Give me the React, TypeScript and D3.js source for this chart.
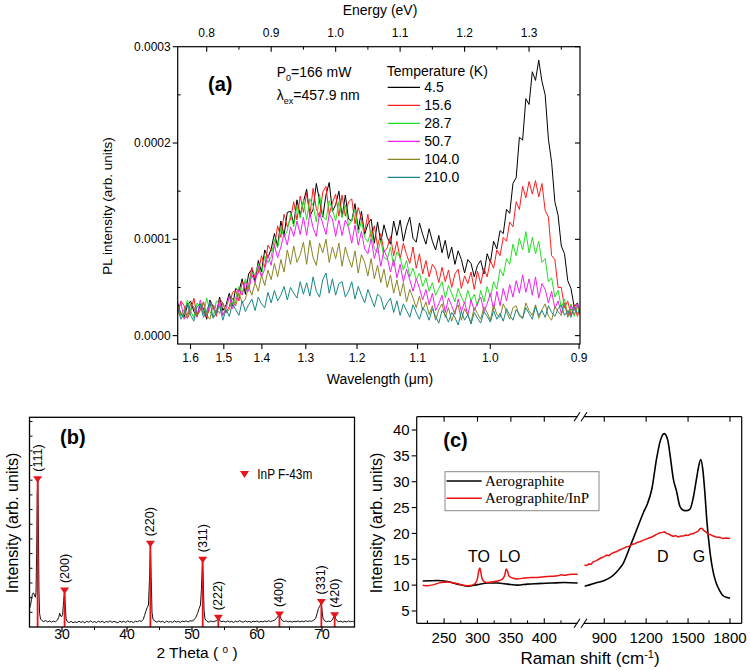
import React from "react";
import * as d3 from "d3";

// ---------------- Panel (a): PL spectra ----------------
const E_START = 0.755; // eV, first sample
const E_STEP = 0.005; // eV between samples
const HC = 1.2398; // eV·µm, wavelength <-> energy
const plTemps = ["4.5", "15.6", "28.7", "50.7", "104.0", "210.0"];
const plColors = ["#000000", "#ff1c1c", "#22e022", "#f020f0", "#8a8424", "#178787"];
// intensities in units of 1e-5 (arb. units)
const pl_4_5 = [
  3.4, 2.2, 1.9, 3.1, 3.6, 2.5, 2.0, 3.3, 2.8, 1.7, 3.7, 3.0, 2.3, 4.0, 2.6, 3.2,
  4.4, 3.1, 4.9, 4.6, 5.9, 4.3, 6.4, 6.9, 5.6, 7.8, 6.6, 8.9, 8.1, 9.0, 10.6, 9.3, 11.9, 10.4, 12.8, 12.9, 11.6, 14.1, 12.5, 13.9,
  15.2, 12.4, 13.1, 15.8, 14.0, 12.3, 14.6, 15.9, 12.9, 13.6, 15.0,
  12.3, 14.6, 12.1, 11.9, 13.7, 11.0, 12.9, 10.5, 11.6, 12.1, 9.6, 11.8,
  9.7, 11.5, 10.2, 9.5, 11.9, 10.4, 12.0, 9.8, 11.3, 12.3, 10.1, 9.7, 11.7, 10.5,
  9.5, 11.1, 9.8, 8.9, 10.4, 8.6, 9.9, 8.0, 9.2, 7.4, 8.8, 7.9, 6.5, 7.9, 7.5, 6.1, 7.3,
  7.8, 6.4, 8.5, 7.6, 9.8, 9.0, 10.9, 10.6, 13.1, 12.7, 15.8, 16.4, 20.6, 20.3, 24.6, 24.0, 27.4, 26.5, 28.6, 26.4, 25.0, 20.4, 18.0, 13.9, 12.5, 9.3, 8.5, 5.7, 4.9, 3.0, 3.4, 2.1,
];
const pl_15_6 = [
  2.2, 3.6, 3.1, 1.8, 2.5, 3.9, 2.1, 2.7, 3.5, 1.9, 3.3, 2.9, 2.0, 3.8, 3.4, 2.4,
  3.0, 4.5, 4.7, 3.6, 5.6, 4.8, 5.2, 7.1, 6.0, 6.5, 8.3, 7.1, 9.4, 8.8, 9.2, 11.4, 10.2, 12.6, 11.3, 12.1, 13.9, 12.0, 14.5, 12.8,
  14.8, 12.5, 15.3, 13.2, 12.3, 14.9, 15.5, 12.6, 13.8, 14.7, 12.4,
  14.6, 12.4, 13.9, 14.2, 11.6, 13.3, 12.1, 10.8, 12.6, 10.2, 11.4, 9.3,
  10.6, 8.7, 9.1, 10.3, 8.3, 9.8, 8.0, 9.6, 8.4, 7.5, 9.2, 7.0, 8.5, 6.4,
  7.8, 6.1, 7.4, 6.9, 5.5, 7.1, 5.6, 6.8, 5.0, 6.4, 6.9, 4.9, 6.2, 5.4, 6.6, 4.8, 6.7,
  5.4, 7.0, 6.1, 7.8, 7.0, 8.9, 8.3, 10.2, 9.8, 11.8, 11.3, 13.9, 13.1, 15.5, 14.3, 16.0, 14.7, 16.1, 14.4, 15.8, 13.0, 12.3, 8.3, 7.9, 5.0, 5.0, 2.9, 3.6, 2.1, 3.2, 2.0, 3.1,
];
const pl_28_7 = [
  3.1, 2.0, 2.4, 3.7, 2.6, 1.8, 3.4, 3.0, 2.2, 3.9, 2.5, 1.9, 3.6, 3.3, 2.1, 2.9,
  4.0, 3.3, 3.9, 5.1, 4.4, 5.9, 5.0, 6.6, 6.3, 7.4, 6.2, 8.3, 7.6, 8.2, 10.0, 9.1, 11.2, 10.2, 10.9, 12.6, 11.3, 13.5, 12.2, 14.1,
  12.0, 14.2, 13.5, 11.8, 14.7, 12.4, 12.0, 14.0, 13.1, 11.9, 13.9,
  12.3, 13.6, 11.4, 12.0, 13.1, 10.6, 11.9, 10.2, 9.7, 11.0, 9.0, 8.6,
  9.9, 8.1, 7.9, 9.2, 7.2, 8.7, 8.1, 6.8, 7.8, 6.1, 7.0, 5.8, 6.5, 5.1,
  6.0, 4.6, 5.5, 4.2, 4.9, 5.6, 3.9, 5.2, 4.4, 3.5, 4.9, 4.0, 3.3, 4.7, 3.6, 4.3, 3.1,
  4.7, 3.5, 5.1, 4.0, 5.6, 4.8, 6.9, 6.2, 8.0, 7.4, 9.5, 8.3, 10.1, 8.9, 10.8, 8.6, 10.2, 8.5, 9.8, 7.6, 8.0, 5.6, 6.0, 4.0, 4.7, 2.9, 3.8, 2.2, 3.3, 2.0, 3.1, 1.9,
];
const pl_50_7 = [
  2.5, 3.4, 1.7, 2.2, 3.3, 2.9, 1.9, 3.7, 2.4, 2.0, 3.5, 3.1, 2.3, 3.6, 2.1, 2.8,
  4.1, 2.8, 3.5, 4.8, 4.2, 5.6, 4.6, 6.3, 5.5, 7.2, 6.1, 6.9, 8.4, 7.3, 9.4, 8.1, 9.2, 10.6, 9.4, 11.3, 10.3, 11.9, 10.5, 12.3,
  10.4, 12.7, 11.2, 10.3, 12.8, 11.6, 10.5, 12.6, 12.1, 10.3, 12.0,
  10.4, 12.0, 11.2, 9.6, 11.5, 9.4, 10.8, 9.0, 8.5, 10.1, 8.0, 9.3,
  7.2, 8.9, 8.1, 6.6, 7.9, 6.0, 7.4, 5.6, 6.9, 5.8, 4.6, 5.9, 4.9, 3.7,
  4.8, 3.2, 4.4, 2.6, 3.3, 4.2, 2.4, 3.9, 3.1, 2.2, 3.8, 2.5, 3.5, 2.1, 3.7, 2.6, 3.4,
  4.0, 2.5, 3.3, 4.4, 2.7, 4.6, 3.1, 4.9, 3.6, 5.3, 4.0, 5.7, 4.4, 6.3, 4.5, 5.9, 4.2, 6.1, 3.9, 5.4, 4.8, 3.4, 4.6, 2.8, 3.6, 2.3, 3.4, 2.0, 3.1, 2.6, 3.3, 2.2,
];
const pl_104_0 = [
  3.1, 2.2, 2.7, 1.8, 3.3, 3.0, 2.0, 2.6, 3.5, 2.1, 1.7, 3.2, 2.8, 2.3, 3.4, 2.4,
  2.7, 3.9, 3.1, 4.4, 3.4, 3.8, 5.1, 4.2, 5.5, 4.6, 6.3, 5.2, 6.8, 5.8, 7.5, 6.1, 7.9, 6.6, 8.9, 7.4, 9.3, 7.6, 8.4, 9.7,
  7.4, 9.9, 8.1, 7.3, 9.6, 8.6, 10.0, 7.6, 9.2, 8.0, 9.6,
  7.2, 9.2, 8.0, 7.1, 8.8, 6.5, 8.4, 7.6, 6.2, 8.0, 5.9, 7.3,
  5.5, 6.9, 5.0, 6.3, 4.4, 5.8, 4.1, 5.5, 3.5, 4.8, 3.9, 2.9, 4.1, 2.6,
  3.5, 2.2, 3.1, 1.6, 2.7, 3.3, 1.9, 2.9, 1.5, 2.6, 3.2, 1.6, 2.8, 2.1, 1.4, 2.9, 2.3,
  1.7, 3.0, 2.4, 1.6, 3.2, 2.2, 1.9, 3.3, 2.5, 1.7, 2.9, 3.1, 2.0, 1.8, 3.4, 2.6, 2.1, 3.2, 1.8, 2.7, 3.3, 2.0, 1.6, 3.0, 2.5, 2.1, 3.4, 1.9, 2.8, 2.2, 3.0, 2.4,
];
const pl_210_0 = [
  2.8, 1.7, 2.3, 3.4, 2.1, 1.5, 3.0, 3.3, 1.9, 2.6, 3.5, 1.8, 2.4, 3.1, 1.6, 2.7,
  2.0, 3.3, 2.7, 2.1, 3.6, 2.5, 3.2, 3.8, 2.6, 4.0, 3.3, 2.9, 4.5, 3.4, 4.7, 3.6, 4.2, 5.1, 3.7, 5.0, 4.4, 3.9, 5.6, 4.3,
  5.5, 4.1, 6.1, 4.6, 4.0, 5.8, 6.5, 4.4, 5.9, 4.2, 5.4,
  5.6, 4.0, 4.6, 5.6, 3.8, 5.1, 4.2, 3.4, 4.8, 3.9, 3.0, 4.3,
  4.0, 2.7, 3.4, 3.9, 2.4, 3.6, 2.1, 3.3, 2.6, 1.9, 3.2, 2.4, 1.7, 2.9,
  2.5, 1.6, 2.8, 2.0, 1.3, 2.6, 2.2, 1.4, 2.4, 1.9, 1.1, 2.5, 1.6, 2.2, 1.2, 2.4, 1.8,
  1.3, 2.5, 2.0, 1.4, 2.6, 1.7, 2.3, 1.5, 2.8, 2.1, 1.6, 2.7, 2.2, 1.8, 2.9, 2.3, 1.7, 3.0, 2.1, 2.6, 1.9, 3.1, 2.4, 2.0, 2.8, 3.2, 2.1, 2.6, 1.9, 3.0, 2.3, 2.8,
];
const plSeries = [pl_4_5, pl_15_6, pl_28_7, pl_50_7, pl_104_0, pl_210_0];
const energyTicks = [0.8, 0.9, 1.0, 1.1, 1.2, 1.3];
const energyMinor = [0.85, 0.95, 1.05, 1.15, 1.25, 1.35];
const wavelengthTicks = [1.6, 1.5, 1.4, 1.3, 1.2, 1.1, 1.0, 0.9];
const plYTicks = [0, 10, 20, 30]; // ×1e-5
const plYMinor = [5, 15, 25];

// ---------------- Panel (b): XRD ----------------
const xrdTheta = [
  25.0, 25.15, 25.3, 25.45, 25.6, 25.75, 25.9, 26.0, 26.1, 26.2, 26.28, 26.36, 26.45, 26.55, 26.7, 26.9,
  27.2, 27.5, 27.8, 28.1, 28.4, 28.7, 29.0, 29.3, 29.5, 29.65, 29.8, 29.95, 30.1, 30.25, 30.38, 30.5,
  30.62, 30.8, 31.1, 31.4, 31.7, 32.0, 32.3, 32.6, 32.9, 33.2, 33.5, 33.8, 34.1, 34.4, 34.7, 35.0,
  35.3, 35.6, 35.9, 36.2, 36.5, 36.8, 37.1, 37.4, 37.7, 38.0, 38.3, 38.6, 38.9, 39.2, 39.5, 39.8,
  40.1, 40.4, 40.7, 41.0, 41.3, 41.6, 41.9, 42.2, 42.5, 42.7, 42.9, 43.1, 43.3, 43.45, 43.6, 43.72,
  43.85, 44.0, 44.3, 44.6, 44.9, 45.2, 45.5, 45.8, 46.1, 46.4, 46.7, 47.0, 47.3, 47.6, 47.9, 48.2,
  48.5, 48.8, 49.1, 49.4, 49.7, 50.0, 50.3, 50.6, 50.85, 51.1, 51.3, 51.45, 51.6, 51.72, 51.85, 52.0,
  52.3, 52.6, 52.9, 53.2, 53.5, 53.8, 54.05, 54.3, 54.6, 54.9, 55.2, 55.5, 55.8, 56.1, 56.4, 56.7,
  57.0, 57.3, 57.6, 57.9, 58.2, 58.5, 58.8, 59.1, 59.4, 59.7, 60.0, 60.3, 60.6, 60.9, 61.2, 61.5,
  61.8, 62.1, 62.4, 62.7, 63.0, 63.25, 63.45, 63.7, 63.9, 64.2, 64.5, 64.8, 65.1, 65.4, 65.7, 66.0,
  66.3, 66.6, 66.9, 67.2, 67.5, 67.8, 68.1, 68.4, 68.7, 69.0, 69.25, 69.45, 69.6, 69.75, 69.88, 70.0,
  70.15, 70.4, 70.7, 71.0, 71.3, 71.6, 71.8, 71.95, 72.1, 72.35, 72.6, 72.9, 73.2, 73.5, 73.8, 74.1,
  74.4, 74.7, 75.0,
];
const xrdIntensity = [
  8.8, 10.2, 13.0, 15.6, 16.3, 15.4, 14.2, 16.5, 35.0, 64.0, 70.0, 52.0, 18.0, 6.5, 3.8, 3.1,
  2.6, 3.1, 2.4, 2.9, 2.3, 2.8, 2.5, 3.3, 4.6, 6.6, 5.2, 4.9, 6.0, 12.5, 17.0, 11.0,
  4.2, 2.6, 2.1, 2.7, 2.0, 2.5, 2.1, 2.8, 2.2, 2.6, 2.0, 2.7, 2.3, 2.9, 2.2, 2.6,
  2.1, 2.8, 2.3, 2.7, 2.1, 2.6, 2.3, 2.9, 2.2, 2.7, 2.4, 2.0, 2.8, 2.3, 2.7, 2.2,
  2.9, 2.4, 2.6, 2.1, 2.8, 2.5, 3.0, 2.7, 3.6, 5.5, 7.5, 9.2, 10.5, 22.0, 38.5, 24.0,
  7.0, 3.6, 2.8, 2.3, 2.9, 2.4, 2.7, 2.1, 2.8, 2.3, 2.6, 2.2, 2.9, 2.4, 2.7, 2.2,
  2.8, 2.5, 2.9, 2.4, 3.0, 2.8, 3.4, 4.6, 6.5, 8.8, 10.5, 18.0, 31.0, 24.0, 8.0, 3.8,
  2.7, 2.3, 2.9, 2.5, 2.7, 3.0, 4.2, 3.0, 2.5, 2.8, 2.3, 2.9, 2.4, 2.7, 2.2, 2.8,
  2.5, 3.0, 2.6, 2.3, 2.9, 2.4, 2.7, 2.2, 2.8, 2.5, 2.9, 2.3, 2.7, 2.4, 2.9, 2.5,
  3.0, 2.6, 2.9, 3.3, 4.1, 5.2, 5.6, 4.0, 3.0, 2.6, 2.9, 2.4, 2.8, 2.3, 2.7, 2.5,
  2.9, 2.4, 2.8, 2.5, 3.0, 2.6, 2.9, 2.7, 3.2, 4.0, 6.5, 8.8, 9.6, 10.5, 11.8, 8.0,
  4.2, 2.9, 2.5, 2.8, 2.6, 3.4, 4.8, 5.4, 3.9, 2.9, 2.5, 2.8, 2.3, 2.7, 2.4, 2.9,
  2.5, 2.7, 2.4,
];
const hklLabels = ["(111)", "(200)", "(220)", "(311)", "(222)", "(400)", "(331)", "(420)"];
const hklTheta = [26.25, 30.4, 43.6, 51.65, 54.05, 63.45, 69.9, 71.95];
const hklIntensity = [70.7, 17.6, 39.9, 32.3, 4.7, 6.2, 12.2, 5.8];
const thetaTicks = [30, 40, 50, 60, 70];
const thetaMinor = [35, 45, 55, 65];
const xrdYTicks = [7, 14, 21, 28, 35, 42, 49, 56, 63, 70, 77, 84, 91, 98];

// ---------------- Panel (c): Raman ----------------
const ramanLowShift_aero = [218, 240, 255, 270, 285, 300, 315, 330, 345, 360, 375, 390, 410, 430, 450];
const ramanLow_aero = [10.8, 10.9, 10.7, 10.2, 9.8, 10.1, 10.4, 10.4, 10.2, 10.0, 10.2, 10.3, 10.4, 10.5, 10.4];
const ramanLowShift_inp = [
  218, 225, 235, 245, 255, 265, 275, 285, 292, 297, 300, 302, 303.5, 305, 307, 310, 315, 320, 330, 337,
  341, 343, 345, 347, 350, 355, 360, 370, 380, 390, 400, 410, 420, 425, 430, 440, 450,
];
const ramanLow_inp = [
  10.0, 9.9, 10.1, 10.5, 10.6, 10.4, 10.1, 9.9, 10.0, 10.4, 11.3, 12.8, 13.3, 12.5, 11.2, 10.7, 10.5, 10.6, 10.8, 11.1,
  12.0, 13.1, 12.7, 11.8, 11.5, 11.3, 11.2, 11.4, 11.5, 11.5, 11.6, 11.7, 11.8, 12.0, 11.9, 12.1, 12.1,
];
const ramanHighShift_aero = [
  760, 800, 850, 900, 950, 990, 1036, 1084, 1132, 1180, 1210, 1240, 1275, 1300, 1330, 1355, 1372, 1394,
  1418, 1442, 1466, 1490, 1514, 1538, 1560, 1574, 1591, 1605, 1620, 1634, 1658, 1680, 1700, 1725, 1753, 1780, 1801,
];
const ramanHigh_aero = [
  9.8, 10.1, 10.5, 10.9, 11.6, 12.6, 14.2, 17.4, 20.7, 24.0, 25.8, 28.5, 34.5, 37.8, 39.3, 38.0, 35.0, 30.6,
  28.1, 25.2, 24.5, 24.4, 24.7, 27.0, 30.5, 32.7, 34.3, 32.5, 28.0, 22.6, 16.2, 12.5, 10.5, 9.0, 7.9, 7.6, 7.45,
];
const ramanHighShift_inp = [
  758, 775, 790, 805, 820, 840, 860, 880, 900, 917, 935, 950, 970, 990, 1010, 1036, 1060, 1080, 1100, 1120,
  1140, 1155, 1180, 1200, 1220, 1240, 1260, 1275, 1295, 1315, 1330, 1345, 1360, 1380, 1394, 1410, 1430, 1450,
  1466, 1485, 1500, 1520, 1538, 1555, 1570, 1585, 1598, 1612, 1628, 1645, 1658, 1680, 1700, 1730, 1750, 1770, 1801,
];
const ramanHigh_inp = [
  13.9, 13.8, 14.1, 14.0, 14.5, 14.7, 15.0, 15.3, 15.5, 15.8, 15.7, 16.1, 16.3, 16.5, 16.8, 17.1, 17.4, 17.5, 17.9, 18.0,
  18.3, 18.4, 18.7, 18.9, 19.1, 19.3, 19.6, 19.8, 20.1, 20.2, 20.3, 20.0, 19.9, 19.6, 19.4, 19.6, 19.3, 19.5,
  19.5, 19.7, 19.6, 19.9, 20.0, 20.2, 20.4, 20.9, 21.0, 20.6, 20.3, 19.8, 19.8, 19.5, 19.3, 19.2, 19.0, 19.1, 19.0,
];
const ramanLowTicks = [250, 300, 350, 400];
const ramanLowMinor = [225, 275, 325, 375, 425];
const ramanHighTicks = [900, 1200, 1500, 1800];
const ramanHighMinor = [1050, 1350, 1650];
const ramanYTicks = [5, 10, 15, 20, 25, 30, 35, 40];
const ramanSeriesNames = ["Aerographite", "Aerographite/InP"];
const ramanColors = ["#000000", "#ee1111"];

const SANS = "'Liberation Sans', Arial, Helvetica, sans-serif";
const SERIF = "'Liberation Serif', 'Times New Roman', serif";

export default function App() {
  // ---- scales (a)
  const xA = d3.scaleLinear().domain([0.755, 1.379]).range([177.7, 580]);
  const yA = d3.scaleLinear().domain([-0.87, 30]).range([344, 46.7]);
  const plLine = d3
    .line<number>()
    .x((_, i) => xA(E_START + i * E_STEP))
    .y((d) => yA(d));
  const aL = 177.7, aR = 580, aT = 46.7, aB = 344;

  // ---- scales (b)
  const xB = d3.scaleLinear().domain([25, 75]).range([29.5, 354.5]);
  const yB = d3.scaleLinear().domain([0, 100]).range([627, 417.3]);
  const xrdLine = d3
    .line<number>()
    .x((d) => xB(d))
    .y((_, i) => yB(xrdIntensity[i]));
  const bL = 29.5, bR = 354.5, bT = 417.3, bB = 627;

  // ---- scales (c)
  const xCL = d3.scaleLinear().domain([209, 452]).range([416.7, 579]);
  const xCR = d3.scaleLinear().domain([755, 1884]).range([584, 741.7]);
  const yC = d3.scaleLinear().domain([2.62, 42.57]).range([623.3, 416.7]);
  const cL = 416.7, cR = 741.7, cT = 416.7, cB = 623.3;
  const mk = (xs: number[], ys: number[], sx: d3.ScaleLinear<number, number>, smooth: boolean) =>
    d3
      .line<number>()
      .x((d) => sx(d))
      .y((_, i) => yC(ys[i]))
      .curve(smooth ? d3.curveMonotoneX : d3.curveLinear)(xs) || "";

  const hklTop = hklIntensity.map((v) => yB(v));

  return (
    <svg
      width={750}
      height={671}
      viewBox="0 0 750 671"
      style={{ position: "absolute", left: 0, top: 0, background: "#fff" }}
      fontFamily={SANS}
    >
      <rect x={0} y={0} width={750} height={671} fill="#fff" />
      <defs>
        <clipPath id="clipA">
          <rect x={aL} y={aT} width={aR - aL} height={aB - aT} />
        </clipPath>
        <clipPath id="clipB">
          <rect x={bL} y={bT} width={bR - bL} height={bB - bT} />
        </clipPath>
      </defs>

      {/* ================= Panel (a) ================= */}
      <g>
        <g clipPath="url(#clipA)">
          {plSeries.map((s, k) => (
            <path key={k} d={plLine(s) || ""} fill="none" stroke={plColors[k]} strokeWidth={1} strokeLinejoin="round" />
          ))}
        </g>
        <rect x={aL} y={aT} width={aR - aL} height={aB - aT} fill="none" stroke="#000" strokeWidth={1.2} />
        {plYTicks.map((t) => (
          <g key={"ly" + t}>
            <line x1={aL - 5} x2={aL} y1={yA(t)} y2={yA(t)} stroke="#000" strokeWidth={1.1} />
            <line x1={aR - 5} x2={aR} y1={yA(t)} y2={yA(t)} stroke="#000" strokeWidth={1.1} />
            <text x={aL - 7} y={yA(t)} textAnchor="end" dominantBaseline="central" fontSize={12}>
              {(t * 1e-5).toFixed(4)}
            </text>
          </g>
        ))}
        {plYMinor.map((t) => (
          <g key={"lym" + t}>
            <line x1={aL} x2={aL + 3} y1={yA(t)} y2={yA(t)} stroke="#000" />
            <line x1={aR - 3} x2={aR} y1={yA(t)} y2={yA(t)} stroke="#000" />
          </g>
        ))}
        {energyTicks.map((t) => (
          <g key={"et" + t}>
            <line x1={xA(t)} x2={xA(t)} y1={aT} y2={aT + 5} stroke="#000" strokeWidth={1.1} />
            <text x={xA(t)} y={37} textAnchor="middle" fontSize={12}>
              {t.toFixed(1)}
            </text>
          </g>
        ))}
        {energyMinor.map((t) => (
          <line key={"em" + t} x1={xA(t)} x2={xA(t)} y1={aT} y2={aT + 3} stroke="#000" />
        ))}
        {wavelengthTicks.map((w) => (
          <g key={"wt" + w}>
            <line x1={xA(HC / w)} x2={xA(HC / w)} y1={aB} y2={aB + 5} stroke="#000" strokeWidth={1.1} />
            <text x={xA(HC / w)} y={362} textAnchor="middle" fontSize={12}>
              {w.toFixed(1)}
            </text>
          </g>
        ))}
        <text x={380} y={15} textAnchor="middle" fontSize={14}>Energy (eV)</text>
        <text x={380} y={384} textAnchor="middle" fontSize={14}>Wavelength (μm)</text>
        <text transform="translate(112,206) rotate(-90)" textAnchor="middle" fontSize={13.5}>
          PL intensity (arb. units)
        </text>
        <text x={208} y={91} fontSize={20} fontWeight="bold">(a)</text>
        <text x={276.7} y={77} fontSize={14}>
          P<tspan dy={4} fontSize={9}>0</tspan>
          <tspan dy={-4}>=166 mW</tspan>
        </text>
        <text x={276.7} y={100} fontSize={14}>
          λ<tspan dy={4} fontSize={9}>ex</tspan>
          <tspan dy={-4}>=457.9 nm</tspan>
        </text>
        <text x={386.7} y={76} fontSize={14}>Temperature (K)</text>
        {plTemps.map((t, k) => (
          <g key={"lg" + t}>
            <line x1={387.7} x2={420} y1={87.3 + k * 18} y2={87.3 + k * 18} stroke={plColors[k]} strokeWidth={1.3} />
            <text x={424.3} y={92.3 + k * 18} fontSize={14}>{t}</text>
          </g>
        ))}
      </g>

      {/* ================= Panel (b) ================= */}
      <g>
        <g clipPath="url(#clipB)">
          <path d={xrdLine(xrdTheta) || ""} fill="none" stroke="#111" strokeWidth={1} strokeLinejoin="round" />
          {hklTheta.map((t, k) => (
            <line key={"hl" + k} x1={xB(t)} x2={xB(t)} y1={bB} y2={hklTop[k]} stroke="#e8141c" strokeWidth={1.8} />
          ))}
        </g>
        {hklTheta.map((t, k) => (
          <g key={"hk" + k}>
            <path
              d={`M${xB(t) - 4.5},${hklTop[k] - 2.5} L${xB(t) + 4.5},${hklTop[k] - 2.5} L${xB(t)},${hklTop[k] + 4} Z`}
              fill="#e8141c"
            />
            <text
              transform={`translate(${xB(t)},${hklTop[k] - 7}) rotate(-90)`}
              fontSize={12.5}
              dominantBaseline="central"
              textAnchor="start"
            >
              {hklLabels[k]}
            </text>
          </g>
        ))}
        <rect x={bL} y={bT} width={bR - bL} height={bB - bT} fill="none" stroke="#000" strokeWidth={1.3} />
        {xrdYTicks.map((t) => (
          <line key={"by" + t} x1={bL} x2={bL + 3} y1={yB(t)} y2={yB(t)} stroke="#000" />
        ))}
        {thetaTicks.map((t) => (
          <g key={"bx" + t}>
            <line x1={xB(t)} x2={xB(t)} y1={bB} y2={bB + 5} stroke="#000" strokeWidth={1.2} />
            <text x={xB(t)} y={639} textAnchor="middle" fontSize={14}>{t}</text>
          </g>
        ))}
        {thetaMinor.map((t) => (
          <line key={"bxm" + t} x1={xB(t)} x2={xB(t)} y1={bB} y2={bB + 3} stroke="#000" />
        ))}
        <text x={197} y={658} textAnchor="middle" fontSize={15.5}>
          2 Theta ( <tspan dy={-5} fontSize={10}>o</tspan>
          <tspan dy={5}> )</tspan>
        </text>
        <text transform="translate(18,523) rotate(-90)" textAnchor="middle" fontSize={16}>
          Intensity (arb. units)
        </text>
        <text x={60} y={444} fontSize={20} fontWeight="bold">(b)</text>
        <path d="M240,471 L249,471 L244.5,478 Z" fill="#e8141c" />
        <text x={257.3} y={479} fontSize={14} textLength={55} lengthAdjust="spacingAndGlyphs">InP F-43m</text>
      </g>

      {/* ================= Panel (c) ================= */}
      <g>
        <path d={mk(ramanLowShift_aero, ramanLow_aero, xCL, true)} fill="none" stroke={ramanColors[0]} strokeWidth={1.6} />
        <path d={mk(ramanHighShift_aero, ramanHigh_aero, xCR, true)} fill="none" stroke={ramanColors[0]} strokeWidth={1.6} />
        <path d={mk(ramanLowShift_inp, ramanLow_inp, xCL, true)} fill="none" stroke={ramanColors[1]} strokeWidth={1.5} />
        <path d={mk(ramanHighShift_inp, ramanHigh_inp, xCR, false)} fill="none" stroke={ramanColors[1]} strokeWidth={1.5} />
        <line x1={cL} x2={cL} y1={cT} y2={cB} stroke="#000" strokeWidth={1.2} />
        <line x1={cR} x2={cR} y1={cT} y2={cB} stroke="#000" strokeWidth={1.2} />
        <line x1={cL} x2={577.5} y1={cT} y2={cT} stroke="#000" strokeWidth={1.2} />
        <line x1={584} x2={cR} y1={cT} y2={cT} stroke="#000" strokeWidth={1.2} />
        <line x1={cL} x2={577.5} y1={cB} y2={cB} stroke="#000" strokeWidth={1.2} />
        <line x1={584} x2={cR} y1={cB} y2={cB} stroke="#000" strokeWidth={1.2} />
        {[cT, cB].map((yy) => (
          <g key={"brk" + yy}>
            <line x1={574} x2={580} y1={yy + 4.5} y2={yy - 4.5} stroke="#000" strokeWidth={1.1} />
            <line x1={581} x2={587} y1={yy + 4.5} y2={yy - 4.5} stroke="#000" strokeWidth={1.1} />
          </g>
        ))}
        {ramanYTicks.map((t) => (
          <g key={"cy" + t}>
            <line x1={cL - 5} x2={cL} y1={yC(t)} y2={yC(t)} stroke="#000" strokeWidth={1.1} />
            <text x={cL - 7} y={yC(t)} textAnchor="end" dominantBaseline="central" fontSize={15}>{t}</text>
          </g>
        ))}
        {ramanLowTicks.map((t) => (
          <g key={"clt" + t}>
            <line x1={xCL(t)} x2={xCL(t)} y1={cB} y2={cB - 5} stroke="#000" strokeWidth={1.1} />
            <line x1={xCL(t)} x2={xCL(t)} y1={cT} y2={cT + 5} stroke="#000" strokeWidth={1.1} />
            <text x={xCL(t)} y={643} textAnchor="middle" fontSize={15}>{t}</text>
          </g>
        ))}
        {ramanHighTicks.map((t) => (
          <g key={"cht" + t}>
            <line x1={xCR(t)} x2={xCR(t)} y1={cB} y2={cB - 5} stroke="#000" strokeWidth={1.1} />
            <line x1={xCR(t)} x2={xCR(t)} y1={cT} y2={cT + 5} stroke="#000" strokeWidth={1.1} />
            <text x={xCR(t)} y={643} textAnchor="middle" fontSize={15}>{t}</text>
          </g>
        ))}
        {ramanLowMinor.map((t) => (
          <line key={"clm" + t} x1={xCL(t)} x2={xCL(t)} y1={cB} y2={cB - 3} stroke="#000" />
        ))}
        {ramanHighMinor.map((t) => (
          <line key={"chm" + t} x1={xCR(t)} x2={xCR(t)} y1={cB} y2={cB - 3} stroke="#000" />
        ))}
        <text x={590} y={664} textAnchor="middle" fontSize={17}>
          Raman shift (cm<tspan dy={-6} fontSize={11}>-1</tspan>
          <tspan dy={6}>)</tspan>
        </text>
        <text transform="translate(382,523) rotate(-90)" textAnchor="middle" fontSize={16}>
          Intensity (arb. units)
        </text>
        <text x={443.3} y={447} fontSize={20} fontWeight="bold">(c)</text>
        <text x={479} y={562} textAnchor="middle" fontSize={16}>TO</text>
        <text x={509.7} y={562} textAnchor="middle" fontSize={16}>LO</text>
        <text x={662.7} y={562} textAnchor="middle" fontSize={16}>D</text>
        <text x={699} y={562} textAnchor="middle" fontSize={16}>G</text>
        <rect x={445} y={471.7} width={154} height={39} fill="#fff" stroke="#888" strokeWidth={1} />
        {ramanSeriesNames.map((n, k) => (
          <g key={"rl" + k}>
            <line x1={446.5} x2={481.7} y1={481 + k * 17.3} y2={481 + k * 17.3} stroke={ramanColors[k]} strokeWidth={1.6} />
            <text x={485} y={486 + k * 17.3} fontSize={15} fontFamily={SERIF}>{n}</text>
          </g>
        ))}
      </g>
    </svg>
  );
}
